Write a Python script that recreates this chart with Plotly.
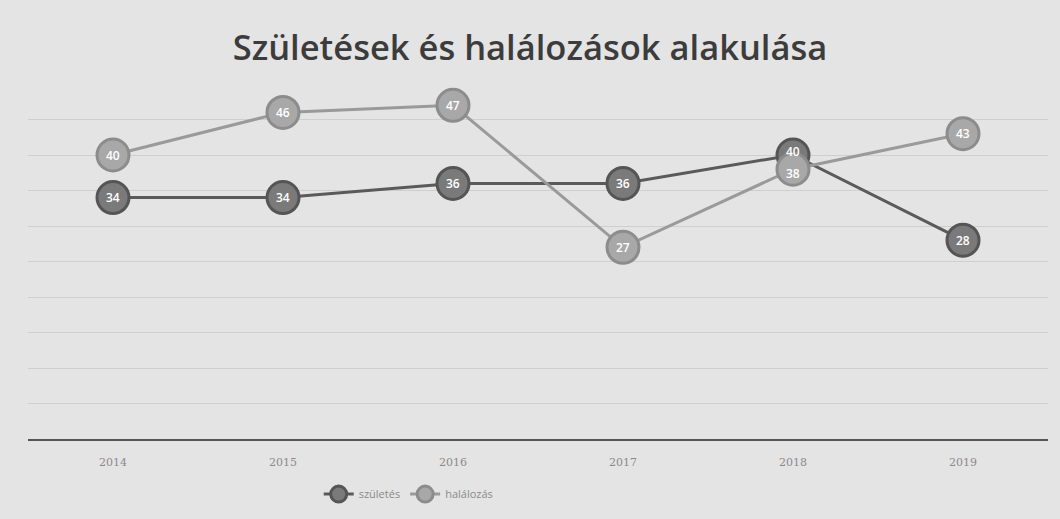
import plotly.graph_objects as go

years = ["2014", "2015", "2016", "2017", "2018", "2019"]
szuletes = [34, 34, 36, 36, 40, 28]
halalozas = [40, 46, 47, 27, 38, 43]

bg = "#e4e4e4"

fig = go.Figure()
fig.add_trace(go.Scatter(
    x=years, y=szuletes, name="születés", mode="lines+markers",
    line=dict(color="#5a5a5a", width=3),
    marker=dict(size=32, color="#7a7a7a", line=dict(color="#555555", width=3)),
))
fig.add_trace(go.Scatter(
    x=years, y=halalozas, name="halálozás", mode="lines+markers",
    line=dict(color="#9a9a9a", width=3),
    marker=dict(size=32, color="#a8a8a8", line=dict(color="#8c8c8c", width=3)),
))

annotations = []
for i, yr in enumerate(years):
    a, b = szuletes[i], halalozas[i]
    close = abs(a - b) < 4
    for v, other in ((a, b), (b, a)):
        shift = 0
        if close:
            shift = 4 if v > other else -4
        annotations.append(dict(
            x=i, y=v, xref="x", yref="y", text=str(v), showarrow=False, yshift=shift,
            font=dict(color="white", size=12, family="Open Sans", weight=600),
        ))

fig.update_layout(
    width=1060, height=519,
    paper_bgcolor=bg, plot_bgcolor=bg,
    margin=dict(l=28, r=12, t=84, b=79),
    title=dict(text="Születések és halálozások alakulása", x=0.5, xanchor="center",
               y=0.908, yanchor="middle",
               font=dict(family="Open Sans", size=34.5, color="#3c3c3c", weight=600)),
    showlegend=True,
    legend=dict(orientation="h", x=0.285, xanchor="left", y=-0.152, yanchor="middle",
                font=dict(family="Open Sans", size=11, color="#8a8a8a"),
                bgcolor="rgba(0,0,0,0)"),
    xaxis=dict(type="category", range=[-0.5, 5.5], showgrid=False, showline=True,
               linecolor="#555555", linewidth=2, ticks="",
               tickfont=dict(family="DejaVu Serif", size=11, color="#8a8a8a"),
               ticklabelstandoff=12),
    yaxis=dict(range=[0, 50], dtick=5, showticklabels=False, showgrid=True,
               gridcolor="#cfcfcf", gridwidth=1, zeroline=False, showline=False),
    annotations=annotations,
)

fig.write_html("out.html", config={"displayModeBar": False},
               post_script="document.body.style.margin='0';")
